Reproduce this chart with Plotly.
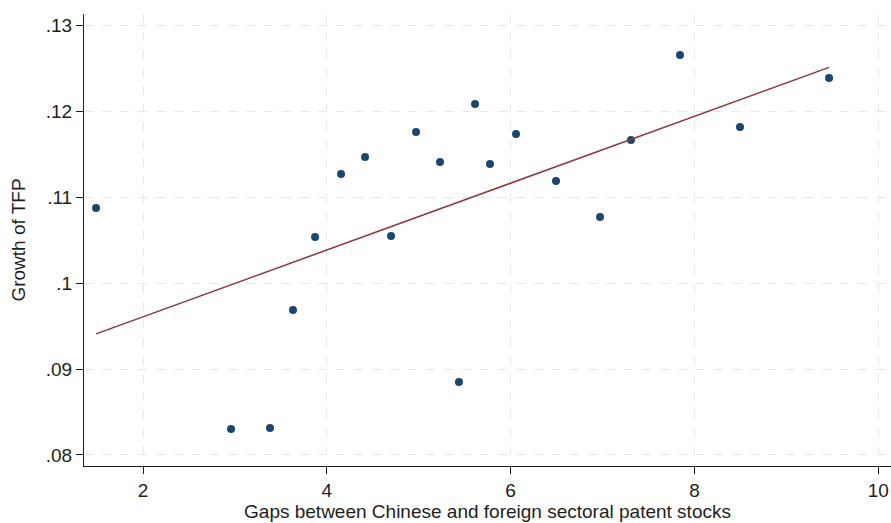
import numpy as np
import plotly.graph_objects as go

# Sectoral patent-stock gaps and TFP growth
gap = [1.489, 2.958, 3.382, 3.632, 3.872, 4.155, 4.416, 4.699, 4.971, 5.232,
       5.438, 5.613, 5.776, 6.059, 6.494, 6.973, 7.310, 7.843, 8.496, 9.465]
tfp_growth = [0.10872, 0.08302, 0.08314, 0.09686, 0.10535, 0.11267, 0.11465, 0.10547,
              0.11756, 0.11407, 0.08849, 0.12081, 0.11384, 0.11733, 0.11186, 0.10767,
              0.11663, 0.12651, 0.11814, 0.12384]

x_ticks = [2, 4, 6, 8, 10]
y_ticks = [0.08, 0.09, 0.10, 0.11, 0.12, 0.13]
y_tick_text = [".08", ".09", ".1", ".11", ".12", ".13"]

# Linear fit over the observed range
slope, intercept = np.polyfit(gap, tfp_growth, 1)
fit_x = np.array([min(gap), max(gap)])
fit_y = intercept + slope * fit_x

fig = go.Figure()
fig.add_trace(go.Scatter(
    x=gap, y=tfp_growth, mode="markers",
    marker=dict(color="#1a476f", size=8),
    showlegend=False,
))
fig.add_trace(go.Scatter(
    x=fit_x, y=fit_y, mode="lines",
    line=dict(color="#90353b", width=1.5),
    showlegend=False,
))

axis_font = dict(family="Liberation Sans, Arial, sans-serif", size=19, color="#1e1e1e")
fig.update_layout(
    width=891, height=523,
    margin=dict(l=84, r=0, t=14, b=57),
    paper_bgcolor="white", plot_bgcolor="white",
    font=axis_font,
    xaxis=dict(
        range=[1.358, 10.139], tickvals=x_ticks, ticks="outside", ticklen=7,
        tickcolor="#1e1e1e", showline=True, linecolor="#1e1e1e", linewidth=1,
        showgrid=True, gridcolor="#e8e8e8", griddash="dash", gridwidth=1,
        zeroline=False, tickfont=axis_font,
        title=dict(text="Gaps between Chinese and foreign sectoral patent stocks",
                   font=axis_font, standoff=3),
    ),
    yaxis=dict(
        range=[0.07872, 0.13128], tickvals=y_ticks, ticktext=y_tick_text,
        ticks="outside", ticklen=7, tickcolor="#1e1e1e",
        showline=True, linecolor="#1e1e1e", linewidth=1,
        showgrid=True, gridcolor="#e8e8e8", griddash="dash", gridwidth=1,
        zeroline=False, tickfont=axis_font,
        title=dict(text="Growth of TFP", font=axis_font, standoff=15),
    ),
)

fig.write_html("out.html")
